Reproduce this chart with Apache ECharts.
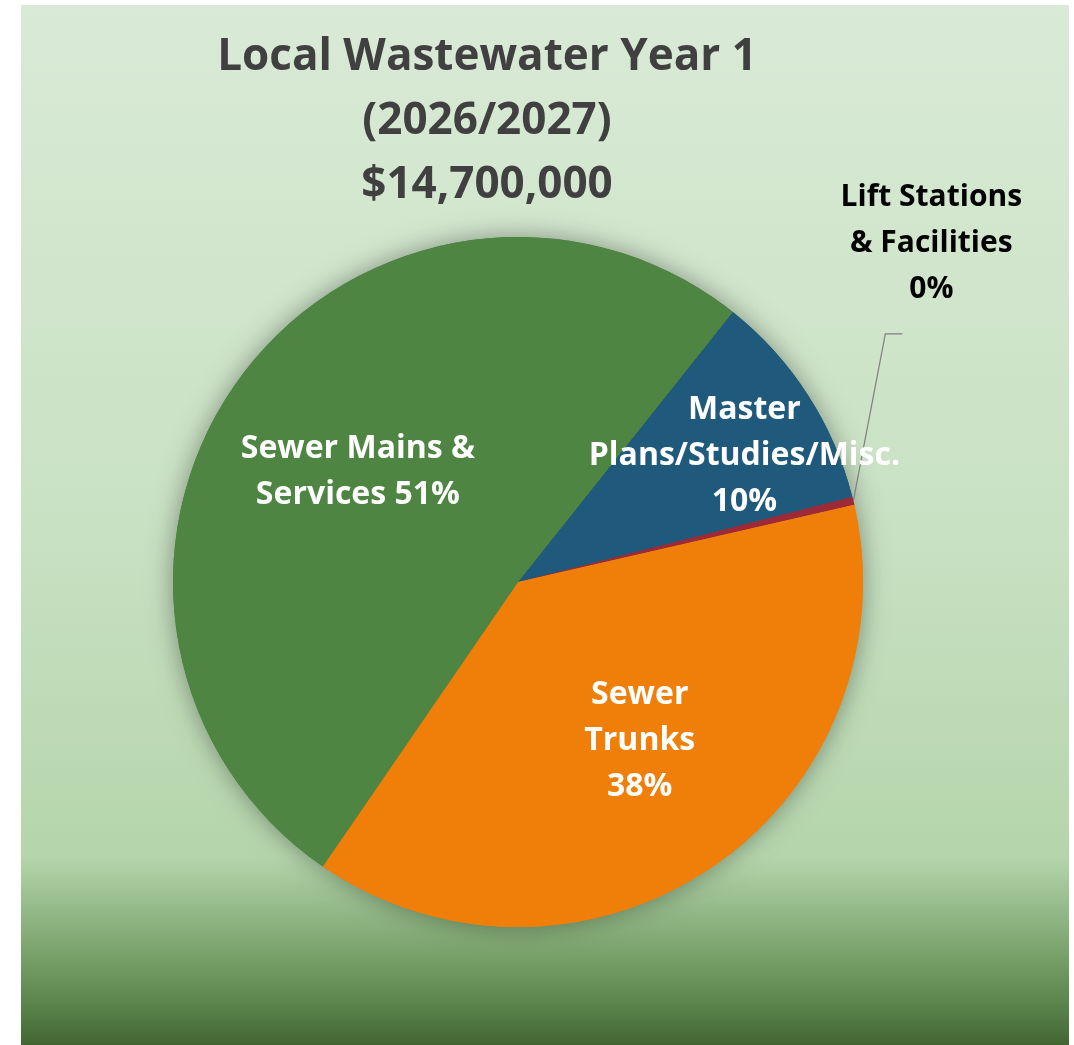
<!DOCTYPE html>
<html>
<head>
<meta charset="utf-8">
<script src="https://cdn.jsdelivr.net/npm/echarts@6/dist/echarts.min.js"></script>
<style>
html, body { margin: 0; padding: 0; background: #ffffff; }
#chart { width: 1074px; height: 1045px; }
</style>
</head>
<body>
<div id="chart"></div>
<script>
// ---- data ----
const categories = ['Master Plans/Studies/Misc.', 'Lift Stations & Facilities', 'Sewer Trunks', 'Sewer Mains & Services'];
const values = [1520000, 55000, 5610000, 7515000];
const labelTemplates = ['Master\nPlans/Studies/Misc.\n{p}', 'Lift Stations\n& Facilities\n{p}', 'Sewer\nTrunks\n{p}', 'Sewer Mains &\nServices {p}'];
const titleLines = ['Local Wastewater Year 1', '(2026/2027)', '$14,700,000'];

// ---- styles ----
const colors = ['#1f5a7c', '#9e2a38', '#f07f0a', '#4e8542'];
const insideOffsets = { 0: [79, -31], 2: [23, 14], 3: [-19, -6] };
const OUTSIDE_INDEX = 1;
const pieCenter = [518, 582];
const pieRadius = 345;
const startAngle = 51.5;
const FONT = 'Open Sans';

const total = values.reduce((a, b) => a + b, 0);
const pct = v => Math.round(v / total * 100) + '%';

const pieData = categories.map((name, i) => {
  const item = { name: name, value: values[i], itemStyle: { color: colors[i] } };
  if (i === OUTSIDE_INDEX) {
    item.label = { position: 'outside', color: '#000000', fontSize: 30, lineHeight: 46 };
    item.labelLine = { show: true, length: 20, length2: 15, lineStyle: { color: '#7f7f7f', width: 1.2 } };
  }
  return item;
});

function edgePoint(idx) {
  let cum = 0;
  for (let k = 0; k < idx; k++) cum += values[k];
  const mid = (cum + values[idx] / 2) / total * 360;
  const rad = (startAngle - mid) * Math.PI / 180;
  return [pieCenter[0] + pieRadius * Math.cos(rad), pieCenter[1] - pieRadius * Math.sin(rad)];
}

const chart = echarts.init(document.getElementById('chart'), null, { renderer: 'canvas' });
chart.setOption({
  animation: false,
  backgroundColor: '#ffffff',
  graphic: [{
    type: 'rect',
    z: -10,
    silent: true,
    shape: { x: 21, y: 5, width: 1048, height: 1040 },
    style: {
      fill: {
        type: 'linear', x: 0, y: 0, x2: 0, y2: 1,
        colorStops: [
          { offset: 0, color: '#d9ead6' },
          { offset: 0.5, color: '#c9e1c3' },
          { offset: 0.82, color: '#b4d5ab' },
          { offset: 0.86, color: '#9abf90' },
          { offset: 0.91, color: '#7ba36c' },
          { offset: 0.957, color: '#5d874f' },
          { offset: 1, color: '#426632' }
        ]
      }
    }
  }],
  title: {
    text: titleLines.join('\n'),
    left: 482,
    textAlign: 'center',
    top: 20,
    padding: 5,
    textStyle: { fontFamily: FONT, fontWeight: 'bold', fontSize: 44, lineHeight: 64, color: '#404040' }
  },
  series: [
    {
      type: 'pie',
      silent: true,
      z: 1,
      center: pieCenter,
      radius: pieRadius,
      startAngle: startAngle,
      clockwise: true,
      label: { show: false },
      labelLine: { show: false },
      emphasis: { disabled: true },
      itemStyle: { shadowBlur: 26, shadowColor: 'rgba(0,0,0,0.38)', shadowOffsetX: 0, shadowOffsetY: 0 },
      data: categories.map((name, i) => ({ name: name, value: values[i], itemStyle: { color: colors[i] } }))
    },
    {
      type: 'pie',
      silent: true,
      z: 2,
      center: pieCenter,
      radius: pieRadius,
      startAngle: startAngle,
      clockwise: true,
      avoidLabelOverlap: false,
      minShowLabelAngle: 0,
      emphasis: { disabled: true },
      itemStyle: { borderWidth: 0 },
      label: {
        show: true,
        position: 'inside',
        fontFamily: FONT,
        fontWeight: 'bold',
        fontSize: 32,
        lineHeight: 46,
        color: '#ffffff',
        align: 'center',
        formatter: p => labelTemplates[p.dataIndex].replace('{p}', pct(p.value))
      },
      labelLine: { show: false },
      labelLayout: function (params) {
        const i = params.dataIndex;
        if (i === OUTSIDE_INDEX) {
          const pts = params.labelLinePoints;
          const p0 = pts && pts[0] ? pts[0] : edgePoint(i);
          return {
            x: p0[0] + 78,
            y: p0[1] - 257,
            align: 'center',
            verticalAlign: 'middle',
            labelLinePoints: [[p0[0], p0[1]], [p0[0] + 32, p0[1] - 167], [p0[0] + 49, p0[1] - 167]]
          };
        }
        const o = insideOffsets[i] || [0, 0];
        return { dx: o[0], dy: o[1] };
      },
      data: pieData
    }
  ]
});
</script>
</body>
</html>
